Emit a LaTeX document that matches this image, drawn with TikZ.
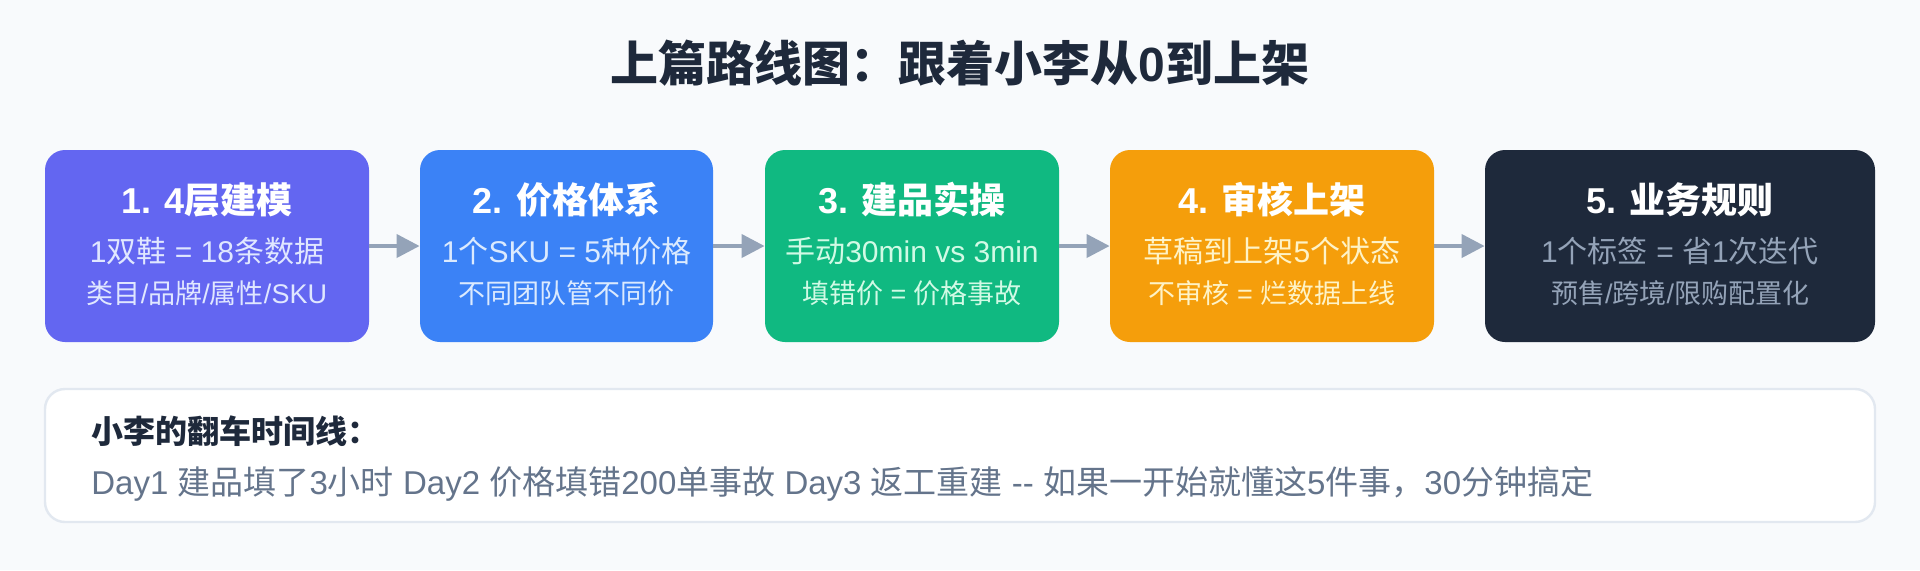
\documentclass[tikz,border=0pt]{standalone}
\usepackage{fontspec}
\setmainfont{Liberation Sans}
\newfontfamily\cjkfam{Noto Sans CJK SC}
\usetikzlibrary{arrows.meta}
\XeTeXinterchartokenstate=1
\newXeTeXintercharclass\cjkclass
\makeatletter
\count@="3000
\loop\ifnum\count@<"3040 \XeTeXcharclass\count@=\cjkclass \advance\count@ 1 \repeat
\count@="4E00
\loop\ifnum\count@<"A000 \XeTeXcharclass\count@=\cjkclass \advance\count@ 1 \repeat
\count@="FF00
\loop\ifnum\count@<"FFF0 \XeTeXcharclass\count@=\cjkclass \advance\count@ 1 \repeat
\makeatother
\XeTeXinterchartoks 0 \cjkclass = {\cjkfam}
\XeTeXinterchartoks 4095 \cjkclass = {\cjkfam}
\XeTeXinterchartoks \cjkclass 0 = {\rmfamily}
\XeTeXinterchartoks \cjkclass 4095 = {\rmfamily}

\definecolor{bgcol}{HTML}{F8FAFC}
\definecolor{titlecol}{HTML}{1E293B}
\definecolor{c1}{HTML}{6366F1}
\definecolor{c2}{HTML}{3B82F6}
\definecolor{c3}{HTML}{10B981}
\definecolor{c4}{HTML}{F59E0B}
\definecolor{c5}{HTML}{1E293B}
\definecolor{s1}{HTML}{E0E7FF}
\definecolor{s2}{HTML}{DBEAFE}
\definecolor{s3}{HTML}{D1FAE5}
\definecolor{s4}{HTML}{FEF3C7}
\definecolor{s5}{HTML}{94A3B8}
\definecolor{arrowcol}{HTML}{94A3B8}
\definecolor{bordercol}{HTML}{E2E8F0}
\definecolor{bodycol}{HTML}{64748B}

\begin{document}
\begin{tikzpicture}[x=0.5pt,y=-0.5pt,
  stepbox/.style={rounded corners=10pt, minimum height=96pt, inner sep=0pt, draw=none},
  ttl/.style={text=white, font=\fontsize{18pt}{20pt}\selectfont\bfseries, inner sep=0pt},
  subA/.style={font=\fontsize{15pt}{18pt}\selectfont, inner sep=0pt},
  subB/.style={font=\fontsize{13.5pt}{16pt}\selectfont, inner sep=0pt},
  arr/.style={draw=arrowcol, line width=2pt, -{Triangle[length=11.5pt,width=11.5pt]}}]
\fill[bgcol] (0,0) rectangle (1920,570);
\useasboundingbox (0,0) rectangle (1920,570);

\node[font=\fontsize{24pt}{28pt}\selectfont\bfseries, text=titlecol, inner sep=0pt] (title) at (960,63) {上篇路线图：跟着小李从0到上架};

\node[stepbox, fill=c1, minimum width=162pt] (b1) at (207,246) {};
\node[ttl] (b1t) at (207,200) {1. 4层建模};
\node[subA, text=s1] (b1a) at (207,251) {1双鞋 = 18条数据};
\node[subB, text=s1] (b1b) at (207,293.5) {类目/品牌/属性/SKU};

\node[stepbox, fill=c2, minimum width=146.5pt] (b2) at (566.5,246) {};
\node[ttl] (b2t) at (566.5,200) {2. 价格体系};
\node[subA, text=s2] (b2a) at (566.5,251) {1个SKU = 5种价格};
\node[subB, text=s2] (b2b) at (566.5,293.5) {不同团队管不同价};

\node[stepbox, fill=c3, minimum width=147pt] (b3) at (912,246) {};
\node[ttl] (b3t) at (912,200) {3. 建品实操};
\node[subA, text=s3] (b3a) at (912,251) {手动30min vs 3min};
\node[subB, text=s3] (b3b) at (912,293.5) {填错价 = 价格事故};

\node[stepbox, fill=c4, minimum width=162pt] (b4) at (1272,246) {};
\node[ttl] (b4t) at (1272,200) {4. 审核上架};
\node[subA, text=s4] (b4a) at (1272,251) {草稿到上架5个状态};
\node[subB, text=s4] (b4b) at (1272,293.5) {不审核 = 烂数据上线};

\node[stepbox, fill=c5, minimum width=195pt] (b5) at (1680,246) {};
\node[ttl] (b5t) at (1680,200) {5. 业务规则};
\node[subA, text=s5] (b5a) at (1680,251) {1个标签 = 省1次迭代};
\node[subB, text=s5] (b5b) at (1680,293.5) {预售/跨境/限购配置化};

\draw[arr] (b1) -- (b2);
\draw[arr] (b2) -- (b3);
\draw[arr] (b3) -- (b4);
\draw[arr] (b4) -- (b5);

\node[draw=bordercol, line width=1.2pt, fill=white, rounded corners=10pt, minimum width=915pt, minimum height=66.5pt, inner sep=0pt] (tl) at (960,455.5) {};
\node[anchor=west, font=\fontsize{16pt}{18pt}\selectfont\bfseries, text=titlecol, inner sep=0pt] (tlh) at (91,431.5) {小李的翻车时间线：};
\node[anchor=west, font=\fontsize{16.5pt}{19pt}\selectfont, text=bodycol, inner sep=0pt] (tlb) at (91,484) {Day1 建品填了3小时 Day2 价格填错200单事故 Day3 返工重建 -\kern0pt- 如果一开始就懂这5件事，30分钟搞定};
\end{tikzpicture}
\end{document}
